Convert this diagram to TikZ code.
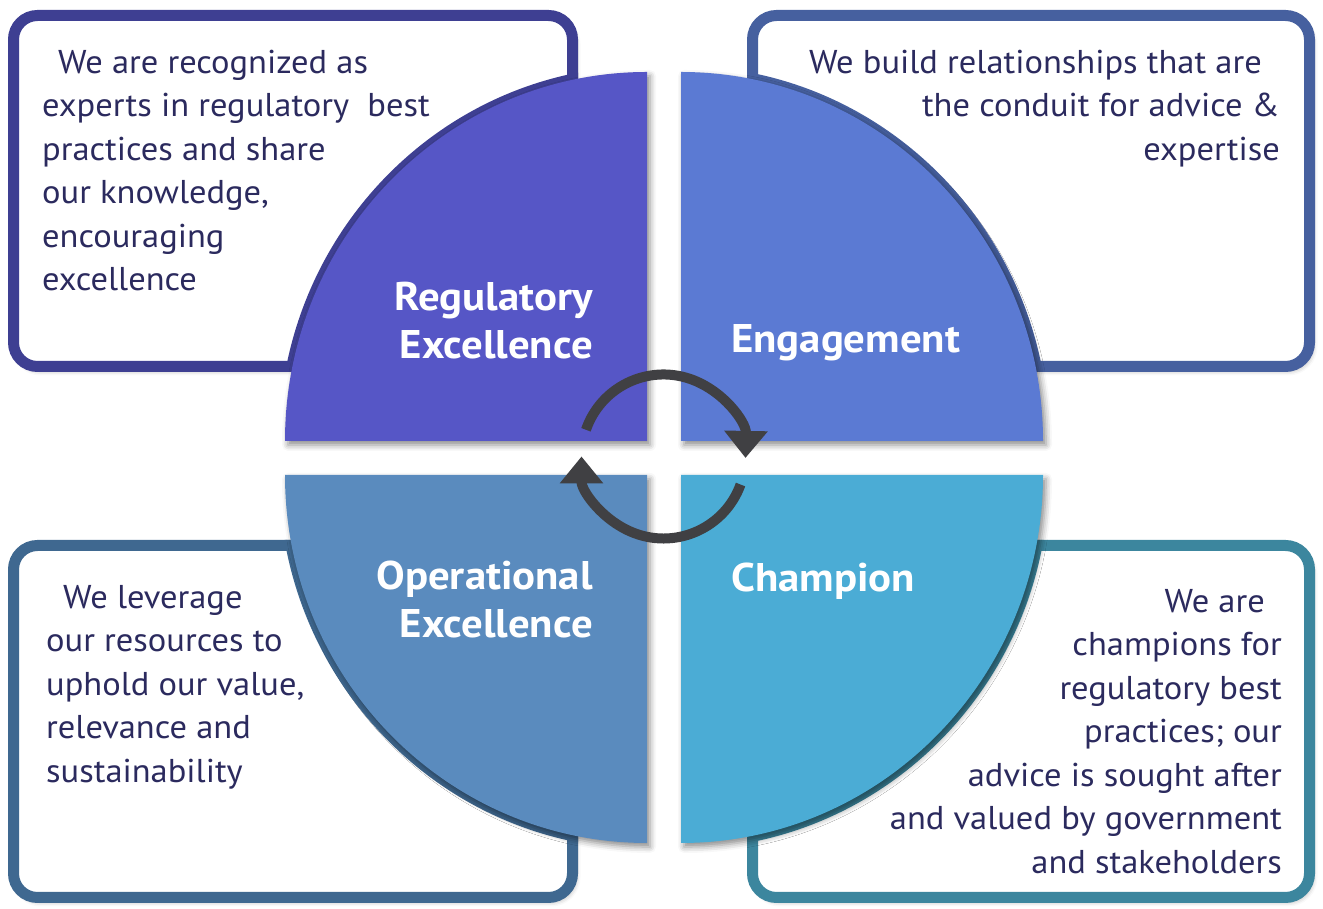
\documentclass[tikz,border=0pt]{standalone}
\usepackage{fontspec}
\setmainfont{PT Sans}
\newfontfamily\bodyfont{PT Sans}[FakeStretch=1.045]
\newfontfamily\titlefont{PT Sans}[FakeStretch=1.07]
\usetikzlibrary{arrows.meta,shadows.blur}
\definecolor{tlq}{HTML}{5656C6}
\definecolor{tlb}{HTML}{3E3F92}
\definecolor{trq}{HTML}{5B7AD3}
\definecolor{trb}{HTML}{46609F}
\definecolor{blq}{HTML}{5A8BBE}
\definecolor{blb}{HTML}{3F6890}
\definecolor{brq}{HTML}{4BACD5}
\definecolor{brb}{HTML}{3C869E}
\definecolor{txt}{HTML}{2B2A5E}
\definecolor{arr}{HTML}{404043}
\begin{document}
\begin{tikzpicture}[x=1pt,y=1pt,
  infobox/.style={line width=11pt, fill=white, rounded corners=24pt,
    blur shadow={shadow xshift=3pt,shadow yshift=-4pt,shadow blur radius=5pt,shadow opacity=35}},
  quad/.style={blur shadow={shadow xshift=3pt,shadow yshift=-4pt,shadow blur radius=6pt,shadow opacity=45}},
  rim/.style={line width=12pt},
  bodytext/.style={inner sep=0pt, text=txt, font=\bodyfont\fontsize{33}{43.5}\selectfont},
  titletext/.style={inner sep=0pt, text=white, font=\titlefont\bfseries\fontsize{40}{48}\selectfont},
  cyc/.style={draw=arr, line width=10pt, -{Triangle[width=42pt,length=27pt]}}]
\useasboundingbox (0,0) rectangle (1323,909);

% boxes
\path[infobox, draw=tlb] (13.5,893.5) rectangle (572.5,542.5);
\path[infobox, draw=trb] (752.5,893.5) rectangle (1309.5,542.5);
\path[infobox, draw=blb] (13.5,363.5) rectangle (572.5,11.5);
\path[infobox, draw=brb] (752.5,363.5) rectangle (1309.5,11.5);

% rims along arcs, inside boxes
\begin{scope}
  \clip[rounded corners=29pt] (8,899) rectangle (578,537);
  \draw[rim, tlb] (285,468) arc[start angle=180,end angle=90,x radius=362,y radius=369];
\end{scope}
\begin{scope}
  \clip[rounded corners=29pt] (747,899) rectangle (1315,537);
  \draw[rim, trb] (681,837) arc[start angle=90,end angle=0,x radius=362,y radius=369];
\end{scope}
\begin{scope}
  \clip[rounded corners=29pt] (8,369) rectangle (578,6);
  \draw[rim, blb] (285,434) arc[start angle=180,end angle=270,x radius=362,y radius=368];
\end{scope}
\begin{scope}
  \clip[rounded corners=29pt] (747,369) rectangle (1315,6);
  \draw[rim, brb] (1043,434) arc[start angle=0,end angle=-90,x radius=362,y radius=368];
\end{scope}

% quadrants
\path[quad, fill=tlq] (647,468) -- (285,468) arc[start angle=180,end angle=90,x radius=362,y radius=369] -- cycle;
\path[quad, fill=trq] (681,468) -- (681,837) arc[start angle=90,end angle=0,x radius=362,y radius=369] -- cycle;
\path[quad, fill=blq] (647,434) -- (285,434) arc[start angle=180,end angle=270,x radius=362,y radius=368] -- cycle;
\path[quad, fill=brq] (681,434) -- (1043,434) arc[start angle=0,end angle=-90,x radius=362,y radius=368] -- cycle;

% body texts
\node[bodytext, anchor=north west, align=left] (tltext) at (42,866)
  {\rule{0pt}{30pt}\hspace*{16pt}We are recognized as\\experts in regulatory~ best\\practices and share\\our knowledge,\\encouraging\\excellence};
\node[bodytext, anchor=north east, align=right] (trtext) at (1280,866)
  {\rule{0pt}{30pt}We build relationships that are\hspace*{18pt}\\the conduit for advice \&\\expertise};
\node[bodytext, anchor=north west, align=left] (bltext) at (46,331)
  {\rule{0pt}{30pt}\hspace*{17pt}We leverage\\our resources to\\uphold our value,\\relevance and\\sustainability};
\node[bodytext, anchor=north east, align=right] (brtext) at (1282,327)
  {\rule{0pt}{30pt}We are\hspace*{17pt}\\champions for\\regulatory best\\practices; our\\advice is sought after\\and valued by government\\and stakeholders};

% titles
\node[titletext, anchor=north east, align=right] (tltitle) at (593,634)
  {\rule{0pt}{35pt}Regulatory\\Excellence};
\node[titletext, anchor=base west] (trtitle) at (731,556) {Engagement};
\node[titletext, anchor=north east, align=right] (bltitle) at (593,355)
  {\rule{0pt}{35pt}Operational\\Excellence};
\node[titletext, anchor=base west] (brtitle) at (731,317) {Champion};

% cycle arrows
\coordinate (c) at (663.5,452.5);
\draw[cyc] ([shift={(161:82)}]c) arc[start angle=161,end angle=-1,radius=82];
\draw[cyc] ([shift={(-20:82)}]c) arc[start angle=-20,end angle=-180,radius=82];
\end{tikzpicture}
\end{document}
